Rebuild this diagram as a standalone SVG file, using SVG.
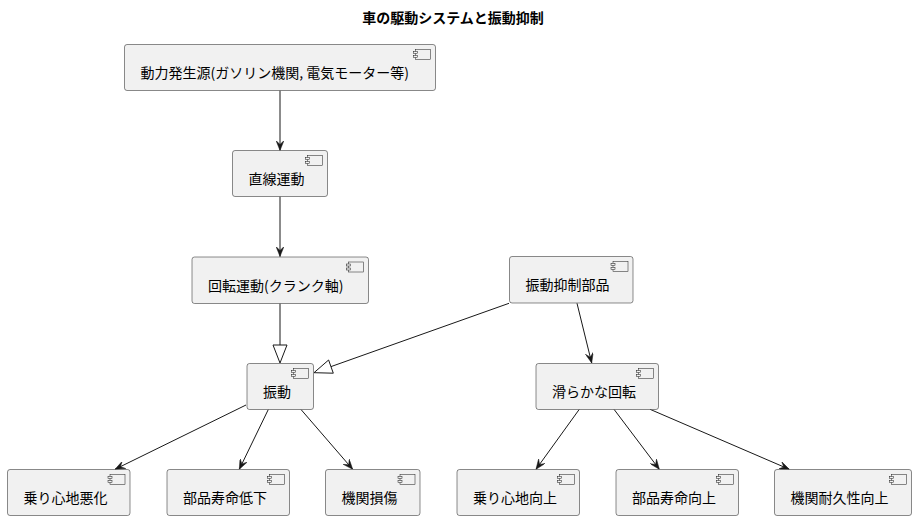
<svg xmlns="http://www.w3.org/2000/svg" width="916" height="520" viewBox="0 0 916 520">
<defs>
<style>
.n{fill:#F1F1F1;stroke:#181818;stroke-width:0.5}
.ic{fill:#F1F1F1;stroke:#181818;stroke-width:0.5}
.t{font-family:"Noto Sans CJK JP","Noto Sans",sans-serif;font-size:14px;fill:#000}
.ttl{font-family:"Noto Sans CJK JP","Noto Sans",sans-serif;font-size:14px;font-weight:bold;fill:#000}
.c{stroke:#181818;stroke-width:1;fill:none}
.tri{stroke:#181818;stroke-width:1;fill:none}
</style>
<marker id="ah" viewBox="0 0 10 8" refX="10" refY="4" markerWidth="10" markerHeight="8" markerUnits="userSpaceOnUse" orient="auto">
<path d="M10,4 L0,0 L4,4 L0,8 Z" fill="#181818" stroke="#181818" stroke-width="0.5"/>
</marker>
<g id="icon">
<rect class="ic" x="-20" y="5" width="15" height="10"/>
<rect class="ic" x="-22" y="7" width="4" height="2"/>
<rect class="ic" x="-22" y="11" width="4" height="2"/>
</g>
</defs>
<rect width="916" height="520" fill="#FFFFFF"/>
<text class="ttl" x="453" y="23" text-anchor="middle">車の駆動システムと振動抑制</text>

<g id="connectors">
<line class="c" x1="280" y1="90.5" x2="280" y2="150.5" marker-end="url(#ah)"/>
<line class="c" x1="280" y1="196.5" x2="280" y2="256.5" marker-end="url(#ah)"/>
<line class="c" x1="280" y1="303.5" x2="280" y2="345"/>
<polygon class="tri" points="273,345 287,345 280,363"/>
<line class="c" x1="509" y1="303.3" x2="331" y2="366.6"/>
<polygon class="tri" points="333.3,373.2 328.6,360 314,372.7"/>
<line class="c" x1="577" y1="303.3" x2="591.7" y2="363" marker-end="url(#ah)"/>
<line class="c" x1="246" y1="405" x2="115" y2="469.3" marker-end="url(#ah)"/>
<line class="c" x1="268.3" y1="409.5" x2="239.3" y2="469.3" marker-end="url(#ah)"/>
<line class="c" x1="301" y1="409.5" x2="352.7" y2="469.3" marker-end="url(#ah)"/>
<line class="c" x1="579.3" y1="409.3" x2="536" y2="469.3" marker-end="url(#ah)"/>
<line class="c" x1="614" y1="409.3" x2="659.3" y2="469.3" marker-end="url(#ah)"/>
<line class="c" x1="650" y1="409.3" x2="789.3" y2="469.3" marker-end="url(#ah)"/>
</g>

<g id="power">
<rect class="n" x="124.5" y="44.5" width="311" height="46" rx="2.5"/>
<use href="#icon" x="435.5" y="44.5"/>
<text class="t" x="140.5" y="78">動力発生源(ガソリン機関, 電気モーター等)</text>
</g>
<g id="linear">
<rect class="n" x="232.5" y="150.5" width="95" height="46" rx="2.5"/>
<use href="#icon" x="327.5" y="150.5"/>
<text class="t" x="248.5" y="184">直線運動</text>
</g>
<g id="rotation">
<rect class="n" x="192" y="257" width="176.5" height="46.5" rx="2.5"/>
<use href="#icon" x="368.5" y="257"/>
<text class="t" x="208" y="290.5">回転運動(クランク軸)</text>
</g>
<g id="suppress">
<rect class="n" x="509.5" y="256.5" width="123.5" height="46.5" rx="2.5"/>
<use href="#icon" x="633" y="256.5"/>
<text class="t" x="525.5" y="290">振動抑制部品</text>
</g>
<g id="vibration">
<rect class="n" x="247" y="363.5" width="66.5" height="46" rx="2.5"/>
<use href="#icon" x="313.5" y="363.5"/>
<text class="t" x="263" y="397">振動</text>
</g>
<g id="smooth">
<rect class="n" x="536" y="363.5" width="122.5" height="46" rx="2.5"/>
<use href="#icon" x="658.5" y="363.5"/>
<text class="t" x="552" y="397">滑らかな回転</text>
</g>
<g id="ride_bad">
<rect class="n" x="7.5" y="469.5" width="122.5" height="46" rx="2.5"/>
<use href="#icon" x="130" y="469.5"/>
<text class="t" x="23.5" y="503">乗り心地悪化</text>
</g>
<g id="life_down">
<rect class="n" x="167" y="469.5" width="122.5" height="46" rx="2.5"/>
<use href="#icon" x="289.5" y="469.5"/>
<text class="t" x="183" y="503">部品寿命低下</text>
</g>
<g id="damage">
<rect class="n" x="325.5" y="469.5" width="94.5" height="46" rx="2.5"/>
<use href="#icon" x="420" y="469.5"/>
<text class="t" x="341.5" y="503">機関損傷</text>
</g>
<g id="ride_up">
<rect class="n" x="457" y="469.5" width="122.5" height="46" rx="2.5"/>
<use href="#icon" x="579.5" y="469.5"/>
<text class="t" x="473" y="503">乗り心地向上</text>
</g>
<g id="life_up">
<rect class="n" x="616" y="469.5" width="122.5" height="46" rx="2.5"/>
<use href="#icon" x="738.5" y="469.5"/>
<text class="t" x="632" y="503">部品寿命向上</text>
</g>
<g id="durability">
<rect class="n" x="774.5" y="469.5" width="137" height="46" rx="2.5"/>
<use href="#icon" x="911.5" y="469.5"/>
<text class="t" x="790.5" y="503">機関耐久性向上</text>
</g>
</svg>
